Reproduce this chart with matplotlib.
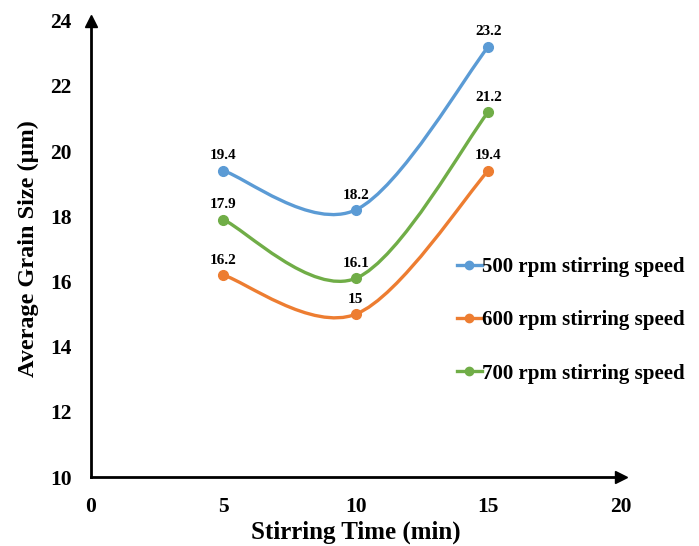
import matplotlib.pyplot as plt
from matplotlib.path import Path
from matplotlib.patches import PathPatch

# Stirring time (min) and average grain size (um) for each stirring speed
times = [5, 10, 15]
size_500 = [19.4, 18.2, 23.2]
size_600 = [16.2, 15.0, 19.4]
size_700 = [17.9, 16.1, 21.2]
labels = ['500 rpm stirring speed', '600 rpm stirring speed', '700 rpm stirring speed']
colors = ['#5B9BD5', '#ED7D31', '#70AD47']
value_text = [['19.4', '18.2', '23.2'], ['16.2', '15', '19.4'], ['17.9', '16.1', '21.2']]

plt.rcParams['font.family'] = ['Liberation Serif', 'DejaVu Serif']
plt.rcParams['font.weight'] = 'bold'


def smooth_path(xs, ys):
    # cubic bezier segments, catmull-rom style control points (like spreadsheet smoothed lines)
    pts = list(zip(xs, ys))
    n = len(pts)
    verts = [pts[0]]
    codes = [Path.MOVETO]
    for i in range(n - 1):
        p0 = pts[max(i - 1, 0)]
        p1 = pts[i]
        p2 = pts[i + 1]
        p3 = pts[min(i + 2, n - 1)]
        c1 = (p1[0] + (p2[0] - p0[0]) / 6.0, p1[1] + (p2[1] - p0[1]) / 6.0)
        c2 = (p2[0] - (p3[0] - p1[0]) / 6.0, p2[1] - (p3[1] - p1[1]) / 6.0)
        verts += [c1, c2, p2]
        codes += [Path.CURVE4] * 3
    return Path(verts, codes)


fig = plt.figure(figsize=(6.99, 5.46), dpi=100)
ax = fig.add_axes([0.130, 0.126, 0.758, 0.836])

series = [size_500, size_600, size_700]
for ys, lab, col, txt in zip(series, labels, colors, value_text):
    ax.add_patch(PathPatch(smooth_path(times, ys), facecolor='none', edgecolor=col,
                           lw=2.4, capstyle='round', zorder=2))
    ax.plot(times, ys, 'o', color=col, ms=7, zorder=3)
    ax.plot([], [], '-o', color=col, lw=2.4, ms=6, label=lab)
    for x, y, t in zip(times, ys, txt):
        ax.annotate(t, (x, y), xytext=(0, 6), textcoords='offset points',
                    ha='center', va='bottom', fontsize=11, fontweight='bold')

ax.set_xlim(0, 20)
ax.set_ylim(10, 24)
ax.set_xticks([0, 5, 10, 15, 20])
ax.set_yticks([10, 12, 14, 16, 18, 20, 22, 24])
ax.tick_params(length=0, labelsize=15.5, pad=14)
for lbl in ax.get_xticklabels() + ax.get_yticklabels():
    lbl.set_fontweight('bold')

ax.spines['top'].set_visible(False)
ax.spines['right'].set_visible(False)
ax.spines['left'].set_linewidth(2)
ax.spines['bottom'].set_linewidth(2)
# arrow heads at the ends of the axes
ax.plot(1, 0, '>k', ms=9, transform=ax.transAxes, clip_on=False)
ax.plot(0, 1, '^k', ms=9, transform=ax.transAxes, clip_on=False)

ax.set_xlabel('Stirring Time (min)', fontsize=18, fontweight='bold', labelpad=3)
ax.set_ylabel('Average Grain Size (\u03bcm)', fontsize=17.5, fontweight='bold', labelpad=8)

leg = ax.legend(loc='center left', bbox_to_anchor=(0.655, 0.344), frameon=False,
                handlelength=1.2, handletextpad=0.0, labelspacing=1.6,
                prop={'weight': 'bold', 'size': 15})

fig.savefig('out.png', dpi=100)
